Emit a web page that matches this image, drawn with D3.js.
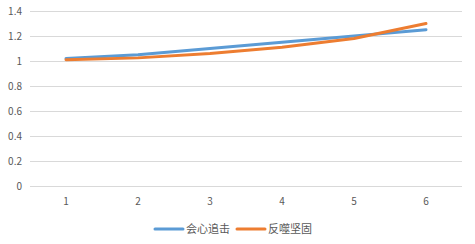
<!DOCTYPE html>
<html>
<head>
<meta charset="utf-8">
<script src="https://cdn.jsdelivr.net/npm/d3@7"></script>
<style>
  body { margin: 0; background: #fff; }
  text { font-family: "Noto Sans CJK SC", "Liberation Sans", sans-serif; fill: #595959; }
</style>
</head>
<body>
<script>
var categories = ['1', '2', '3', '4', '5', '6'];
var seriesNames = ['会心追击', '反噬坚固'];
var critValues = [1.02, 1.05, 1.10, 1.15, 1.20, 1.25];
var backlashValues = [1.01, 1.025, 1.06, 1.11, 1.18, 1.30];
var yTicks = [0, 0.2, 0.4, 0.6, 0.8, 1, 1.2, 1.4];
var colors = ['#5B9BD5', '#ED7D31'];

var chartW = 475, chartH = 244;
var plotLeft = 30, plotRight = 462, plotTop = 11, plotBottom = 186;

var svg = d3.select('body').append('svg')
  .attr('width', chartW)
  .attr('height', chartH);

var x = d3.scalePoint().domain(categories).range([plotLeft + 36, plotRight - 36]);
var y = d3.scaleLinear().domain([0, 1.4]).range([plotBottom, plotTop]);

// horizontal gridlines
svg.append('g').selectAll('line')
  .data(yTicks)
  .enter().append('line')
  .attr('x1', plotLeft).attr('x2', plotRight)
  .attr('y1', function(d) { return Math.round(y(d)) + 0.5; })
  .attr('y2', function(d) { return Math.round(y(d)) + 0.5; })
  .attr('stroke', '#D9D9D9')
  .attr('stroke-width', 1);

// y axis labels
svg.append('g').selectAll('text')
  .data(yTicks)
  .enter().append('text')
  .attr('x', 22)
  .attr('y', function(d) { return y(d); })
  .attr('dy', '0.35em')
  .attr('text-anchor', 'end')
  .style('font-size', '10px')
  .text(function(d) { return d; });

// x axis labels
svg.append('g').selectAll('text')
  .data(categories)
  .enter().append('text')
  .attr('x', function(d) { return x(d); })
  .attr('y', 201)
  .attr('dy', '0.35em')
  .attr('text-anchor', 'middle')
  .style('font-size', '10px')
  .text(function(d) { return d; });

var line = d3.line()
  .x(function(d, i) { return x(categories[i]); })
  .y(function(d) { return y(d); });

[critValues, backlashValues].forEach(function(vals, i) {
  svg.append('path')
    .datum(vals)
    .attr('d', line)
    .attr('fill', 'none')
    .attr('stroke', colors[i])
    .attr('stroke-width', 3)
    .attr('stroke-linecap', 'round')
    .attr('stroke-linejoin', 'round');
});

// legend
var legendX = [155, 237];
var legend = svg.append('g').selectAll('g')
  .data(seriesNames)
  .enter().append('g')
  .attr('transform', function(d, i) { return 'translate(' + legendX[i] + ',229)'; });

legend.append('line')
  .attr('x1', 0).attr('x2', 28)
  .attr('stroke', function(d, i) { return colors[i]; })
  .attr('stroke-width', 3)
  .attr('stroke-linecap', 'round');

legend.append('text')
  .attr('x', 31)
  .attr('dy', '0.35em')
  .style('font-size', '11px')
  .text(function(d) { return d; });
</script>
</body>
</html>
